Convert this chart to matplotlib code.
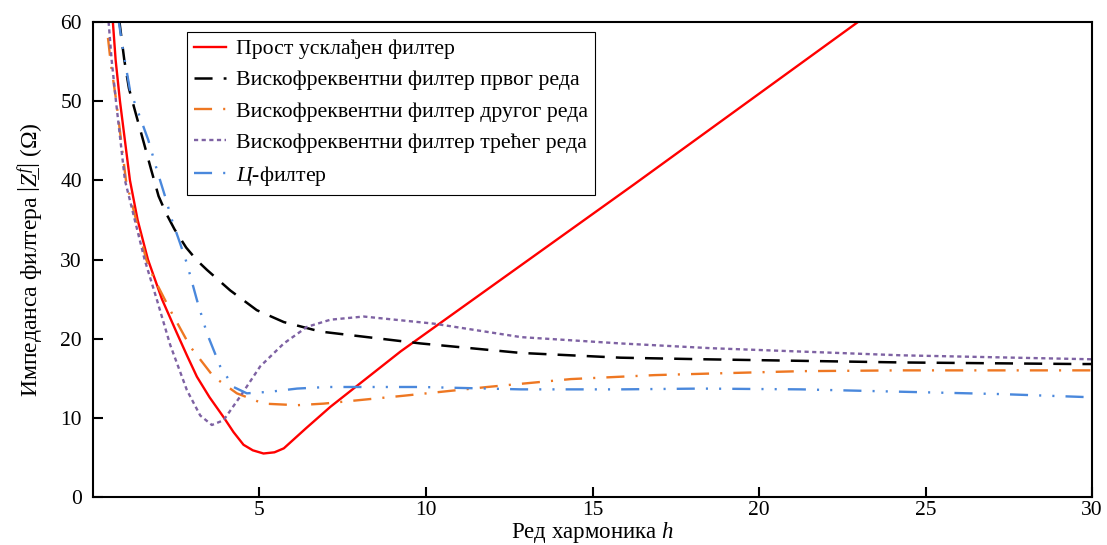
import matplotlib
matplotlib.use("Agg")
import matplotlib.pyplot as plt

plt.rcParams['font.family'] = ['Liberation Serif', 'DejaVu Serif']
plt.rcParams['mathtext.fontset'] = 'custom'
plt.rcParams['mathtext.rm'] = 'Liberation Serif'
plt.rcParams['mathtext.it'] = 'Liberation Serif:italic'
plt.rcParams['mathtext.bf'] = 'Liberation Serif:bold'
plt.rcParams['lines.scale_dashes'] = False

# ---- data ----
h_simple = [0.58, 0.68, 0.81, 1.11, 1.34, 1.65, 2.07, 2.52, 2.82, 3.12,
            3.5, 3.92, 4.22, 4.52, 4.8, 5.12, 5.45, 5.73, 6.4, 7.13, 9.24, 16.25, 22.97, 23.3]
z_simple = [61.0, 55.2, 50.0, 40.0, 35.0, 30.0, 25.0, 20.7, 17.9, 15.2,
            12.6, 10.1, 8.2, 6.6, 5.9, 5.5, 5.65, 6.15, 8.7, 11.4, 18.4, 39.5, 60.0, 61.0]

h_first = [0.78, 0.94, 1.08, 1.3, 1.51, 1.75, 1.97, 2.2, 2.45, 2.8, 3.12, 3.42, 4.12, 4.92,
           5.73, 6.83, 9.84, 12.85, 15.85, 18.36, 24.28, 29.6, 30.0]
z_first = [60.5, 55.2, 51.6, 48.2, 45.0, 41.3, 38.0, 35.8, 33.8, 31.5, 29.9, 28.7, 26.1, 23.6,
           22.1, 20.9, 19.4, 18.2, 17.6, 17.4, 17.0, 16.8, 16.8]

h_second = [0.45, 0.54, 0.7, 0.99, 1.6, 1.81, 2.32, 2.92, 3.62, 4.32, 5.12, 6.13, 6.93,
            9.34, 11.84, 14.35, 16.86, 18.56, 21.27, 24.28, 30.0]
z_second = [58.0, 54.6, 50.0, 40.0, 30.0, 27.8, 23.6, 19.0, 15.2, 13.1, 11.8, 11.6, 11.8,
            12.8, 13.9, 14.9, 15.4, 15.6, 15.9, 16.0, 16.0]

h_third = [0.45, 0.56, 0.69, 0.96, 1.55, 1.92, 2.32, 2.82, 3.22, 3.57, 3.92, 4.42, 5.02, 5.73,
           6.43, 7.13, 8.13, 10.24, 12.85, 15.85, 18.56, 24.28, 30.0]
z_third = [61.0, 55.2, 50.0, 40.0, 30.0, 24.9, 19.2, 13.5, 10.3, 9.1, 9.7, 12.7, 16.5, 19.4,
           21.5, 22.4, 22.8, 21.9, 20.2, 19.4, 18.8, 17.9, 17.4]

h_c = [0.76, 0.9, 1.11, 1.41, 1.66, 1.92, 2.17, 2.37, 2.62, 2.82, 3.12, 3.42, 3.82, 4.22,
       4.62, 5.32, 6.13, 7.03, 9.84, 12.85, 15.85, 18.26, 21.27, 24.28, 27.29, 30.0]
z_c = [60.5, 56.5, 51.4, 48.0, 45.1, 41.3, 37.9, 35.0, 32.0, 29.5, 24.9, 20.7, 16.5, 13.9,
       13.1, 13.3, 13.7, 13.9, 13.9, 13.6, 13.6, 13.7, 13.6, 13.3, 13.0, 12.6]

labels = ['Прост усклађен филтер',
          'Вискофреквентни филтер првог реда',
          'Вискофреквентни филтер другог реда',
          'Вискофреквентни филтер трећег реда',
          r'$\mathit{Ц}$-филтер']

x_ticks = [5, 10, 15, 20, 25, 30]
y_ticks = [0, 10, 20, 30, 40, 50, 60]

# ---- figure ----
fig = plt.figure(figsize=(11.07, 5.45), dpi=100)
ax = fig.add_axes([0.084, 0.088, 0.9025, 0.8716])

ax.plot(h_simple, z_simple, color='#FF0000', lw=1.7, ls='-', label=labels[0])
ax.plot(h_first, z_first, color='black', lw=1.8, ls=(0, (13, 8)), label=labels[1])
ax.plot(h_second, z_second, color='#EE7722', lw=1.7, ls=(0, (13, 8, 1.5, 8)), label=labels[2])
ax.plot(h_third, z_third, color='#7E62A3', lw=1.7, ls=(0, (3, 2.5)), label=labels[3])
ax.plot(h_c, z_c, color='#4A88DC', lw=1.7, ls=(0, (13, 8, 1.5, 8, 1.5, 8)), label=labels[4])

ax.set_xlim(0, 30)
ax.set_ylim(0, 60)
ax.set_xticks(x_ticks)
ax.set_yticks(y_ticks)
ax.tick_params(direction='in', length=7, width=1.5, labelsize=15.5)
ax.tick_params(axis='x', pad=3)
ax.tick_params(axis='y', pad=8)
for s in ax.spines.values():
    s.set_linewidth(1.5)
    s.set_color('black')

ax.set_xlabel(r'Ред хармоника $h$', fontsize=16.5, labelpad=0)
ax.set_ylabel('Импеданса филтера $\\left|\\mathit{Z\u0332}^{f}\\right|$ (Ω)', fontsize=17, labelpad=10)

leg = ax.legend(loc='upper left', bbox_to_anchor=(0.094, 0.979), fontsize=15.7,
                frameon=True, fancybox=False, edgecolor='black', framealpha=1,
                handlelength=1.47, handletextpad=0.46, labelspacing=0.5, borderpad=0.32,
                borderaxespad=0)
leg.get_frame().set_linewidth(0.8)

fig.savefig('out.png', dpi=100)
